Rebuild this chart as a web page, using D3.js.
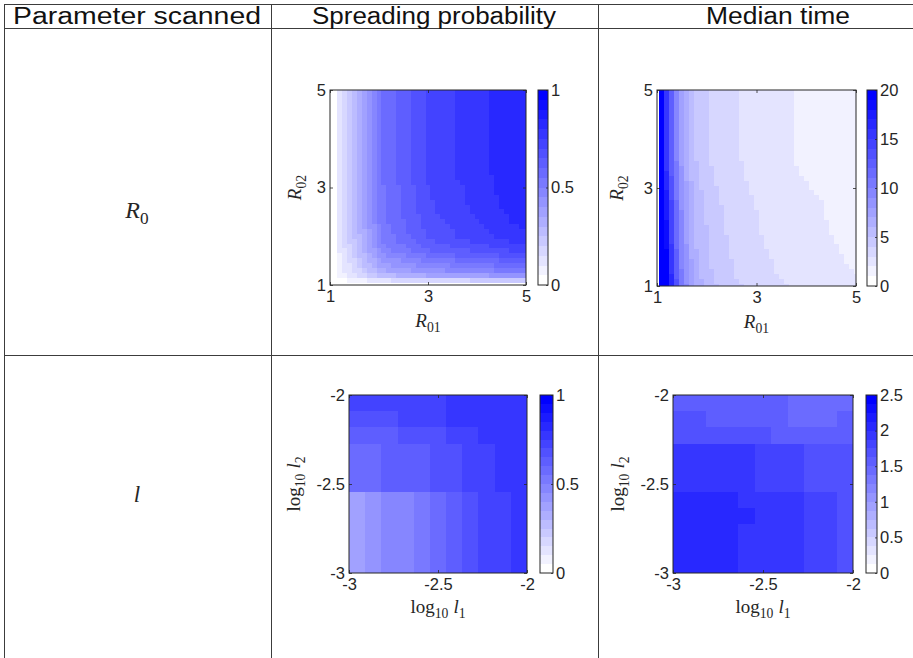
<!DOCTYPE html>
<html>
<head>
<meta charset="utf-8">
<script src="https://cdn.jsdelivr.net/npm/d3@7"></script>
<style>
  body { margin: 0; background: #fff; }
  svg text { font-family: "Liberation Sans", Arial, sans-serif; }
</style>
</head>
<body>
<svg id="chart" width="913" height="658"></svg>
<script>
// ---- data -------------------------------------------------------------
// scan grids
const r0Grid = [1, 1.1, 1.2, 1.3, 1.4, 1.5, 1.6, 1.7, 1.8, 1.9, 2, 2.1, 2.2, 2.3, 2.4, 2.5, 2.6, 2.7, 2.8, 2.9, 3,
                3.1, 3.2, 3.3, 3.4, 3.5, 3.6, 3.7, 3.8, 3.9, 4, 4.1, 4.2, 4.3, 4.4, 4.5, 4.6, 4.7, 4.8, 4.9, 5];
const logLGrid = [-3, -2.9, -2.8, -2.7, -2.6, -2.5, -2.4, -2.3, -2.2, -2.1, -2];

const headers = ["Parameter scanned", "Spreading probability", "Median time"];

const r0Ticks = [1, 3, 5];
const lTicks = [-3, -2.5, -2];
const probTicks = [0, 0.5, 1];
const timeR0Ticks = [0, 5, 10, 15, 20];
const timeLTicks = [0, 0.5, 1, 1.5, 2, 2.5];

// cell values, one char per colour step of the 20 step
// colormap (0-9 then a-j), run-length coded ("cx3" = three cells of c).
// first string = bottom row (R02 = 1 / log10 l2 = -3), left to right.
const spreadR0 = [
  "0x41",
  "0x4,1x4,2x5,3x16,4x12",
  "0x2,1x2,2x2,3x2,4x2,5x4,6x6,7x13,8x8",
  "0x2,1,2x2,3x2,4,5x2,6x2,7x5,8x7,9x10,ax7",
  "0x2,1,2x2,3,4,5x2,6,7x3,8x5,9x7,ax9,bx7",
  "0x2,1,2,3x2,4,5,6x2,7,8x4,9x4,ax7,bx9,cx6",
  "0x2,1,2,3,4,5x2,6,7,8x2,9x4,ax4,bx6,cx9,dx6",
  "0x2,2x2,3,4,5,6,7x2,8,9x2,ax4,bx4,cx8,dx8,ex4",
  "0x2,2,3x2,4,5,6,7,8,9x2,ax4,bx3,cx6,dx8,ex8",
  "0x2,2,3,4x2,5,6,7,8,9,ax3,bx4,cx4,dx7,ex8,fx4",
  "0x2,2,3,4,5x2,6,7,8,9,ax3,bx3,cx3,dx6,ex8,fx7",
  "0x2,2,3,4,5,6x2,7,8,9,ax2,bx3,cx4,dx6,ex7,fx8",
  "0x2,2,3,4,5,6,7,8x2,9,ax2,bx3,cx3,dx6,ex7,fx7,gx2",
  "0x2,2,3,4,5,6,7,8,9,ax2,bx4,cx3,dx5,ex7,fx6,gx4",
  "0x2,2,3,4,5,6,7,8,9,ax2,bx3,cx4,dx4,ex7,fx7,gx4",
  "0x2,2,3,4,5,6,7,8,9,ax2,bx3,cx3,dx4,ex7,fx7,gx5",
  "0x2,2,3,4,5,6,7,8,9,ax2,bx3,cx3,dx4,ex7,fx6,gx6",
  "0x2,2,3,4,5,6,7,8,9,ax2,bx3,cx3,dx4,ex6,fx7,gx6",
  "0x2,2,3,4,5,6,7,8,9,ax2,bx3,cx3,dx3,ex7,fx7,gx6",
  "0x2,2,3,4,5,6,7,8,9,ax2,bx3,cx3,dx3,ex7,fx6,gx7",
  "0x2,2,3,4,5,6,7,8,9,ax2,bx3,cx3,dx3,ex7,fx6,gx7",
  "0x2,2,3,4,5,6,7,8,9,a,bx3,cx3,dx3,ex7,fx7,gx7",
  "0x2,2,3,4,5,6,7,8,9,a,bx3,cx3,dx3,ex6,fx8,gx7",
  "0x2,2,3,4,5,6,7,8,9,a,bx3,cx3,dx3,ex6,fx7,gx8",
  "0x2,2,3,4,5,6,7,8,9,a,bx3,cx3,dx3,ex6,fx7,gx8",
  "0x2,2,3,4,5,6,7,8,9,a,bx3,cx3,dx3,ex6,fx7,gx8",
  "0x2,2,3,4,5,6,7,8,9,a,bx3,cx3,dx3,ex6,fx7,gx8",
  "0x2,2,3,4,5,6,7,8,9,a,bx3,cx3,dx3,ex6,fx7,gx8",
  "0x2,2,3,4,5,6,7,8,9,a,bx3,cx3,dx3,ex6,fx7,gx8",
  "0x2,2,3,4,5,6,7,8,9,a,bx3,cx3,dx3,ex6,fx7,gx8",
  "0x2,2,3,4,5,6,7,8,9,a,bx3,cx3,dx3,ex6,fx7,gx8",
  "0x2,2,3,4,5,6,7,8,9,a,bx3,cx3,dx3,ex6,fx7,gx8",
  "0x2,2,3,4,5,6,7,8,9,a,bx3,cx3,dx3,ex6,fx7,gx8",
  "0x2,2,3,4,5,6,7,8,9,a,bx3,cx3,dx3,ex6,fx7,gx8",
  "0x2,2,3,4,5,6,7,8,9,a,bx3,cx3,dx3,ex6,fx7,gx8",
  "0x2,2,3,4,5,6,7,8,9,a,bx3,cx3,dx3,ex6,fx7,gx8",
  "0x2,2,3,4,5,6,7,8,9,a,bx3,cx3,dx3,ex6,fx7,gx8",
  "0x2,2,3,4,5,6,7,8,9,a,bx3,cx3,dx3,ex6,fx7,gx8",
  "0x2,2,3,4,5,6,7,8,9,a,bx3,cx3,dx3,ex6,fx7,gx8",
  "0x2,2,3,4,5,6,7,8,9,a,bx3,cx3,dx3,ex6,fx7,gx8",
  "0x2,2,3,4,5,6,7,8,9,a,bx3,cx3,dx3,ex6,fx7,gx8"
];

const medianR0 = [
  "0,jx2,g,d,a,9,7,6x2,5x3,4x5,3x9,2x14",
  "0,jx2,g,d,a,8,7,6x2,5x2,4x5,3x9,2x15",
  "0,jx2,g,c,a,8,7,6,5x3,4x4,3x9,2x16",
  "0,jx2,f,c,a,8,7,6,5x3,4x4,3x8,2x16,1",
  "0,jx2,f,c,9,8,7,6,5x2,4x5,3x8,2x15,1x2",
  "0,jx2,f,c,9,8,7,6,5x2,4x5,3x8,2x14,1x3",
  "0,jx2,f,c,9,8,6x2,5x2,4x4,3x8,2x15,1x3",
  "0,jx2,f,c,9,8,6x2,5x2,4x4,3x8,2x14,1x4",
  "0,j,i,f,b,9,8,6,5x3,4x4,3x7,2x15,1x4",
  "0,j,i,e,b,9,7,6,5x3,4x4,3x7,2x14,1x5",
  "0,j,i,e,b,9,7,6,5x3,4x4,3x7,2x14,1x5",
  "0,j,i,e,b,9,7,6,5x3,4x3,3x7,2x14,1x6",
  "0,j,i,e,b,9,7,6,5x3,4x3,3x7,2x14,1x6",
  "0,j,i,e,b,9,7,6,5x2,4x4,3x7,2x14,1x6",
  "0,j,h,e,b,9,7,6,5x2,4x4,3x7,2x13,1x7",
  "0,j,h,e,b,9,7,6,5x2,4x4,3x7,2x13,1x7",
  "0,j,h,e,b,8,7,6,5x2,4x4,3x6,2x14,1x7",
  "0,j,h,e,b,8,7,6,5x2,4x3,3x7,2x14,1x7",
  "0,j,h,d,a,8,7,6,5x2,4x3,3x7,2x13,1x8",
  "0,j,h,d,a,8,7,6,5x2,4x3,3x6,2x13,1x9",
  "0,j,g,d,a,8,7,6,5,4x4,3x6,2x12,1x10",
  "0,j,g,d,a,8,7,6,5,4x3,3x7,2x12,1x10",
  "0,j,g,d,a,8,6,5x2,4x3,3x6,2x12,1x11",
  "0,j,g,c,a,8,6,5x2,4x3,3x6,2x11,1x12",
  "0,j,f,c,a,8,6,5x2,4x3,3x6,2x11,1x12",
  "0,j,f,c,a,7,6,5x2,4x2,3x7,2x10,1x13",
  "0,j,f,c,9,7,6,5,4x3,3x6,2x11,1x13",
  "0,j,f,c,9,7,6,5,4x3,3x6,2x11,1x13",
  "0,j,f,c,9,7,6,5,4x3,3x6,2x11,1x13",
  "0,j,f,c,9,7,6,5,4x3,3x6,2x11,1x13",
  "0,j,f,c,9,7,6,5,4x3,3x6,2x11,1x13",
  "0,j,f,c,9,7,6,5,4x3,3x6,2x11,1x13",
  "0,j,f,c,9,7,6,5,4x3,3x6,2x11,1x13",
  "0,j,f,c,9,7,6,5,4x3,3x6,2x11,1x13",
  "0,j,f,c,9,7,6,5,4x3,3x6,2x11,1x13",
  "0,j,f,c,9,7,6,5,4x3,3x6,2x11,1x13",
  "0,j,f,c,9,7,6,5,4x3,3x6,2x11,1x13",
  "0,j,f,c,9,7,6,5,4x3,3x6,2x11,1x13",
  "0,j,f,c,9,7,6,5,4x3,3x6,2x11,1x13",
  "0,j,f,c,9,7,6,5,4x3,3x6,2x11,1x13",
  "0,j,f,c,9,7,6,5,4x3,3x6,2x11,1x13"
];

const spreadL = [
  "7,8,9x2,a,b,c,d,ex2,f",
  "7,8,9x2,a,b,c,d,ex2,f",
  "7,8,9x2,a,b,c,d,ex2,f",
  "7,8,9x2,a,b,c,d,ex2,f",
  "7,8,9x2,a,b,c,d,ex2,f",
  "bx2,cx3,dx2,ex2,fx2",
  "bx2,cx3,dx2,ex2,fx2",
  "bx2,cx3,dx2,ex2,fx2",
  "cx3,dx3,ex2,fx3",
  "dx3,ex3,fx5",
  "ex6,fx5"
];

const medianL = [
  "gx4,fx4,ex2,d",
  "gx4,fx4,ex2,d",
  "gx4,fx4,ex2,d",
  "gx5,fx3,ex2,d",
  "gx4,fx4,ex2,d",
  "fx5,ex3,dx3",
  "fx5,ex3,dx3",
  "fx5,ex3,dx3",
  "dx6,cx5",
  "dx2,cx5,bx3,c",
  "cx7,bx4"
];

// ---- drawing ----------------------------------------------------------
const svg = d3.select("#chart");
const INK = "#262626";
const SERIF = '"Liberation Serif", "Times New Roman", serif';
const nLevels = 20;
const palette = d3.range(nLevels).map(k => {
  const v = Math.round(255 * (1 - k / (nLevels - 1)));
  return d3.rgb(v, v, 255).formatHex();
});

function decodeRow(s) {
  const out = [];
  s.split(",").forEach(tok => {
    const parts = tok.split("x");
    const k = parseInt(parts[0], 20);
    const n = parts.length > 1 ? +parts[1] : 1;
    for (let m = 0; m < n; m++) out.push(k);
  });
  return out;
}

// math-style label, parts: {t, it, sub}
function mathText(sel, x, y, parts, size, rotate) {
  const t = sel.append("text")
    .attr("text-anchor", "middle")
    .attr("fill", INK)
    .style("font-family", SERIF)
    .style("font-size", size + "px");
  if (rotate) t.attr("transform", `translate(${x},${y}) rotate(-90)`);
  else t.attr("x", x).attr("y", y);
  let shift = 0;
  parts.forEach(p => {
    const want = p.sub ? size * 0.25 : 0;
    const ts = t.append("tspan").text(p.t)
      .attr("dy", want - shift)
      .style("font-size", (p.sub ? size * 0.72 : size) + "px")
      .style("font-style", p.it ? "italic" : "normal");
    if (p.dx) ts.attr("dx", p.dx);
    shift = want;
  });
  return t;
}

// table grid
const table = svg.append("g").attr("stroke", "#3c3c3c").attr("stroke-width", 1);
[4.5, 28.5, 355.5].forEach(y => {
  table.append("line").attr("x1", 4).attr("x2", 913).attr("y1", y).attr("y2", y);
});
[4.5, 271.5, 598.5].forEach(x => {
  table.append("line").attr("x1", x).attr("x2", x).attr("y1", 4).attr("y2", 658);
});

// header text is set a bit wider than the plain font, as in the original
const headerX = [137, 434, 778];
const headerW = [248, 244, 144];
svg.append("g").selectAll("text").data(headers).join("text")
  .attr("x", (d, i) => headerX[i])
  .attr("y", 24)
  .attr("text-anchor", "middle")
  .attr("fill", "#111")
  .attr("textLength", (d, i) => headerW[i])
  .attr("lengthAdjust", "spacingAndGlyphs")
  .style("font-size", "23px")
  .text(d => d);

mathText(svg, 137, 218, [{t: "R", it: 1}, {t: "0", sub: 1}], 24, false);
mathText(svg, 137, 502, [{t: "l", it: 1}], 23, false);

const fmt = d => String(d);

const logLabel = sub => [{t: "log"}, {t: "10", sub: 1}, {t: "l", it: 1, dx: 5}, {t: sub, sub: 1}];

const panels = [
  {id: "a", rows: spreadR0, grid: r0Grid, mode: "centered", max: 1,
   box: [330, 90, 526, 285], cb: [538, 548],
   ticks: r0Ticks, cbTicks: probTicks,
   xLabel: [{t: "R", it: 1}, {t: "01", sub: 1}], xLabelY: 327,
   yLabel: [{t: "R", it: 1}, {t: "02", sub: 1}], yLabelX: 301},
  {id: "b", rows: medianR0, grid: r0Grid, mode: "centered", max: 20,
   box: [657, 90, 856, 286], cb: [867, 877],
   ticks: r0Ticks, cbTicks: timeR0Ticks,
   xLabel: [{t: "R", it: 1}, {t: "01", sub: 1}], xLabelY: 328,
   yLabel: [{t: "R", it: 1}, {t: "02", sub: 1}], yLabelX: 623},
  {id: "c", rows: spreadL, grid: logLGrid, mode: "band", max: 1,
   box: [349, 395, 527, 573], cb: [540, 553],
   ticks: lTicks, cbTicks: probTicks,
   xLabel: logLabel("1"), xLabelY: 613,
   yLabel: logLabel("2"), yLabelX: 300},
  {id: "d", rows: medianL, grid: logLGrid, mode: "band", max: 2.5,
   box: [673, 395, 853, 573], cb: [866, 877],
   ticks: lTicks, cbTicks: timeLTicks,
   xLabel: logLabel("1"), xLabelY: 613,
   yLabel: logLabel("2"), yLabelX: 624}
];

function styleAxis(g) {
  g.select(".domain").remove();
  g.selectAll(".tick line").attr("stroke", INK).attr("stroke-width", 0.8);
  g.selectAll(".tick text").attr("fill", INK)
    .style("font-family", '"Liberation Sans", Arial, sans-serif')
    .style("font-size", "16.5px");
}

function drawPanel(p) {
  const [x0, y0, x1, y1] = p.box;
  const g = svg.append("g");
  const gFirst = p.grid[0], gLast = p.grid[p.grid.length - 1];
  const xs = d3.scaleLinear().domain([gFirst, gLast]).range([x0, x1]);
  const ys = d3.scaleLinear().domain([gFirst, gLast]).range([y1, y0]);
  const color = d3.scaleQuantize().domain([0, p.max]).range(palette);

  const cells = [];
  p.rows.forEach((s, j) => decodeRow(s).forEach((k, i) => {
    cells.push({i, j, v: (k + 0.5) / nLevels * p.max});
  }));

  let cx, cy, cw, ch;
  if (p.mode === "centered") {
    const half = (p.grid[1] - p.grid[0]) / 2;
    cx = d => xs(p.grid[d.i] - half);
    cw = d => xs(p.grid[d.i] + half) - xs(p.grid[d.i] - half);
    cy = d => ys(p.grid[d.j] + half);
    ch = d => ys(p.grid[d.j] - half) - ys(p.grid[d.j] + half);
  } else {
    const xb = d3.scaleBand().domain(d3.range(p.grid.length)).range([x0, x1]);
    const yb = d3.scaleBand().domain(d3.range(p.grid.length)).range([y1, y0]);
    cx = d => xb(d.i); cw = () => xb.bandwidth();
    cy = d => yb(d.j); ch = () => yb.bandwidth();
  }

  g.append("clipPath").attr("id", "clip-" + p.id)
    .append("rect").attr("x", x0).attr("y", y0).attr("width", x1 - x0).attr("height", y1 - y0);

  g.append("g").attr("clip-path", `url(#clip-${p.id})`)
    .selectAll("rect").data(cells).join("rect")
    .attr("x", cx).attr("y", cy).attr("width", cw).attr("height", ch)
    .attr("fill", d => color(d.v))
    .attr("shape-rendering", "crispEdges");

  // axes with inward ticks, mirrored on top/right
  g.append("g").attr("transform", `translate(0,${y1})`)
    .call(d3.axisBottom(xs).tickValues(p.ticks).tickSize(-3).tickPadding(5).tickFormat(fmt))
    .call(styleAxis);
  g.append("g").attr("transform", `translate(0,${y0})`)
    .call(d3.axisTop(xs).tickValues(p.ticks).tickSize(-3).tickFormat(""))
    .call(styleAxis);
  g.append("g").attr("transform", `translate(${x0},0)`)
    .call(d3.axisLeft(ys).tickValues(p.ticks).tickSize(-3).tickPadding(4).tickFormat(fmt))
    .call(styleAxis);
  g.append("g").attr("transform", `translate(${x1},0)`)
    .call(d3.axisRight(ys).tickValues(p.ticks).tickSize(-3).tickFormat(""))
    .call(styleAxis);

  g.append("rect").attr("x", x0).attr("y", y0).attr("width", x1 - x0).attr("height", y1 - y0)
    .attr("fill", "none").attr("stroke", INK).attr("stroke-width", 1);

  // colorbar
  const [c0, c1] = p.cb;
  const cs = d3.scaleLinear().domain([0, p.max]).range([y1, y0]);
  g.append("g").selectAll("rect").data(palette).join("rect")
    .attr("x", c0).attr("width", c1 - c0)
    .attr("y", (d, k) => cs((k + 1) / nLevels * p.max))
    .attr("height", (d, k) => cs(k / nLevels * p.max) - cs((k + 1) / nLevels * p.max))
    .attr("fill", d => d)
    .attr("shape-rendering", "crispEdges");
  g.append("g").attr("transform", `translate(${c1},0)`)
    .call(d3.axisRight(cs).tickValues(p.cbTicks).tickSize(-2).tickPadding(3).tickFormat(fmt))
    .call(styleAxis);
  g.append("rect").attr("x", c0).attr("y", y0).attr("width", c1 - c0).attr("height", y1 - y0)
    .attr("fill", "none").attr("stroke", INK).attr("stroke-width", 1);

  // axis labels
  mathText(g, (x0 + x1) / 2, p.xLabelY, p.xLabel, 19, false);
  mathText(g, p.yLabelX, (y0 + y1) / 2, p.yLabel, 19, true);
}

panels.forEach(drawPanel);
</script>
</body>
</html>
